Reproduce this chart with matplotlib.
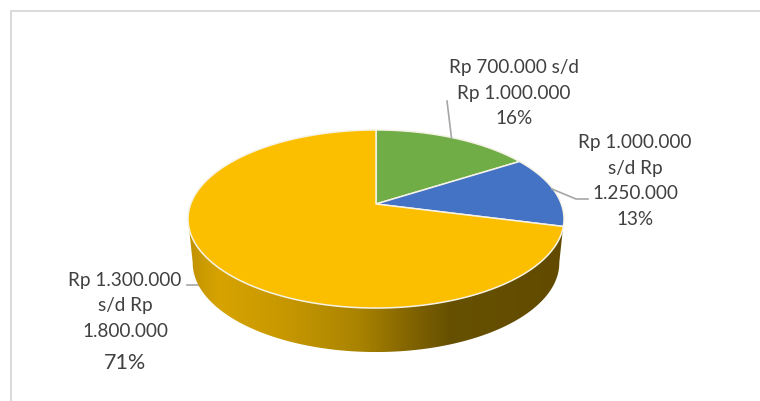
import numpy as np
import matplotlib
matplotlib.use('Agg')
import matplotlib.pyplot as plt
from matplotlib.colors import LinearSegmentedColormap
from matplotlib.patches import Polygon

plt.rcParams['font.family'] = ['Lato', 'DejaVu Sans']

# shares of each salary band, clockwise from 12 o'clock
labels = ['Rp 700.000 s/d\nRp 1.000.000\n16%',
          'Rp 1.000.000\ns/d Rp\n1.250.000\n13%',
          'Rp 1.300.000\ns/d Rp\n1.800.000']
shares = [16, 13, 71]
colors = ['#70AD47', '#4472C4', '#FCBF00']
last_label = '71%'

W, H = 760, 401
# perspective of the pie in pixels
CX, CY = 376, 204
A, B, K = 185.3, 86.5, 0.1685
DEPTH = 44
BOTTOM_SCALE = 0.975    # lower rim is a bit narrower than the top face


def project(theta):
    u, v = np.sin(theta), np.cos(theta)
    d = 1 + K * v
    return CX + A * u / d, CY - B * v / d


fig = plt.figure(figsize=(W / 100, H / 100), dpi=100)
ax = fig.add_axes([0, 0, 1, 1])
ax.set_xlim(0, W)
ax.set_ylim(H, 0)
ax.axis('off')

# chart frame, only left and top are inside the crop
ax.plot([10.5, 10.5, W], [H, 10.5, 10.5], color='#D9D9D9', lw=1.4)

# side wall with its gradient
t = np.linspace(0, 2 * np.pi, 721)
ex, ey = project(t)
i_l, i_r = np.argmin(ex), np.argmax(ex)
lower = np.linspace(t[i_r], t[i_l], 300)
lx, ly = project(lower)
bx = CX + (lx - CX) * BOTTOM_SCALE
wall = np.column_stack([np.r_[lx, bx[::-1]], np.r_[ly, ly[::-1] + DEPTH]])
cmap = LinearSegmentedColormap.from_list('wall', [
    (0.0, '#C09200'), (0.08, '#D6A300'), (0.25, '#C89800'),
    (0.45, '#AA8400'), (0.62, '#7A5E00'), (0.7, '#665000'), (1.0, '#624B00')])
im = ax.imshow(np.linspace(0, 1, 256)[None, :], cmap=cmap, aspect='auto',
               extent=[CX - 188, CX + 188, H, 0], zorder=2)
ax.set_xlim(0, W)
ax.set_ylim(H, 0)
clip = Polygon(wall, closed=True, transform=ax.transData, fc='none', ec='none')
ax.add_patch(clip)
im.set_clip_path(clip)

# top face
bounds = np.r_[0, np.cumsum(shares)] / np.sum(shares) * 2 * np.pi
for a0, a1, c in zip(bounds[:-1], bounds[1:], colors):
    x, y = project(np.linspace(a0, a1, 200))
    ax.fill(np.r_[CX, x], np.r_[CY, y], fc=c, ec='#F6F3E6', lw=1.1, zorder=3,
            joinstyle='round')

# leader lines
leader = '#A6A6A6'
ax.plot([447, 451.5], [101, 138], color=leader, lw=1.2, zorder=4)
ax.plot([552, 576, 588], [189, 199, 199], color=leader, lw=1.2, zorder=4)
ax.plot([187, 199, 217], [285, 285, 304], color=leader, lw=1.2, zorder=1.5)

# labels
txt = dict(ha='center', va='center', color='#404040', fontsize=13.6, linespacing=1.63)
ax.text(514, 93, labels[0], **txt)
ax.text(635, 181, labels[1], **txt)
ax.text(125, 306, labels[2], **txt)
ax.text(125, 363, last_label, ha='center', va='center', color='#404040', fontsize=15.5)

fig.savefig('out.png', dpi=100)
